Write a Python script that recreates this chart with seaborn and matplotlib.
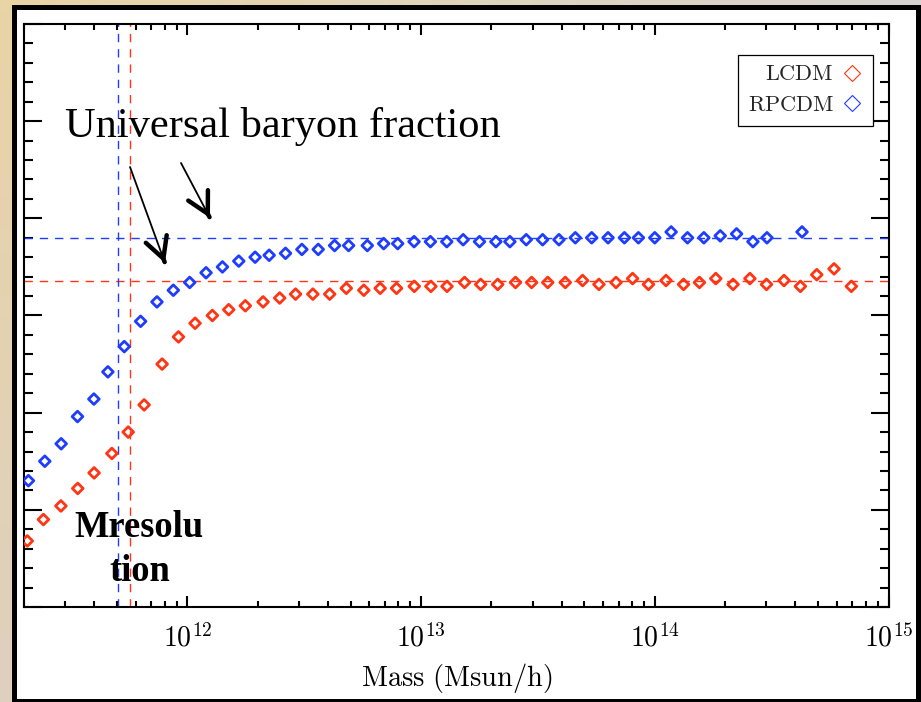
import numpy as np
import pandas as pd
import matplotlib
matplotlib.use("Agg")
import matplotlib.pyplot as plt
import seaborn as sns
from matplotlib.lines import Line2D
from matplotlib.patches import Rectangle
from matplotlib.ticker import (FixedLocator, LogLocator, NullFormatter,
                               FuncFormatter, MultipleLocator)

# Baryon fraction of haloes versus halo mass (log10 M in Msun/h)
lcdm_logm = [11.315, 11.384, 11.459, 11.531, 11.601, 11.677, 11.747, 11.815, 11.892, 11.962,
             12.033, 12.107, 12.177, 12.248, 12.324, 12.395, 12.463, 12.537, 12.609, 12.680,
             12.755, 12.825, 12.895, 12.971, 13.042, 13.111, 13.186, 13.255, 13.328, 13.404,
             13.473, 13.542, 13.617, 13.691, 13.761, 13.834, 13.905, 13.973, 14.048, 14.123,
             14.191, 14.261, 14.335, 14.407, 14.478, 14.553, 14.623, 14.693, 14.767, 14.841]
lcdm_fb = [0.034, 0.045, 0.052, 0.061, 0.069, 0.079, 0.090, 0.104, 0.125, 0.139,
           0.146, 0.150, 0.153, 0.155, 0.157, 0.159, 0.161, 0.161, 0.161, 0.164,
           0.163, 0.164, 0.164, 0.165, 0.165, 0.165, 0.167, 0.166, 0.166, 0.167,
           0.167, 0.167, 0.167, 0.168, 0.166, 0.167, 0.169, 0.166, 0.168, 0.166,
           0.167, 0.169, 0.166, 0.169, 0.166, 0.168, 0.165, 0.171, 0.174, 0.165]

rpcdm_logm = [11.32, 11.39, 11.46, 11.53, 11.60, 11.66, 11.73, 11.80, 11.87, 11.94,
              12.01, 12.08, 12.15, 12.22, 12.29, 12.35, 12.42, 12.49, 12.56, 12.63,
              12.69, 12.77, 12.84, 12.90, 12.97, 13.04, 13.11, 13.18, 13.25, 13.32,
              13.38, 13.45, 13.52, 13.59, 13.66, 13.73, 13.80, 13.87, 13.93, 14.00,
              14.07, 14.14, 14.21, 14.28, 14.35, 14.42, 14.48, 14.63]
rpcdm_fb = [0.065, 0.075, 0.084, 0.098, 0.107, 0.121, 0.134, 0.147, 0.157, 0.163,
            0.167, 0.172, 0.175, 0.178, 0.180, 0.181, 0.182, 0.184, 0.184, 0.186,
            0.186, 0.186, 0.187, 0.187, 0.188, 0.188, 0.188, 0.189, 0.188, 0.188,
            0.188, 0.189, 0.189, 0.189, 0.190, 0.190, 0.190, 0.190, 0.190, 0.190,
            0.193, 0.190, 0.190, 0.191, 0.192, 0.188, 0.190, 0.193]

# Universal baryon fractions and mass resolution limits
fb_universal = {"LCDM": 0.168, "RPCDM": 0.190}
mass_resolution = {"LCDM": 5.7e11, "RPCDM": 5.05e11}

series_names = ["LCDM", "RPCDM"]
x_tick_values = [1e12, 1e13, 1e14, 1e15]

palette = {"LCDM": "#ff3514", "RPCDM": "#1f3dff"}

df = pd.concat([
    pd.DataFrame({"mass": 10 ** np.array(lcdm_logm), "fb": lcdm_fb, "model": "LCDM"}),
    pd.DataFrame({"mass": 10 ** np.array(rpcdm_logm), "fb": rpcdm_fb, "model": "RPCDM"}),
], ignore_index=True)

sns.set_theme(style="ticks")
plt.rcParams["font.family"] = ["Liberation Serif", "DejaVu Serif"]
plt.rcParams["mathtext.fontset"] = "cm"

W, H = 921, 702
fig = plt.figure(figsize=(W / 100, H / 100), dpi=100)

# slide background with a soft gradient and a black-framed white panel
bg = fig.add_axes([0, 0, 1, 1], zorder=-10)
bg.axis("off")
tl = np.array([233, 212, 166]) / 255
tr = np.array([214, 212, 210]) / 255
bl = np.array([222, 208, 190]) / 255
br = np.array([214, 212, 210]) / 255
u = np.linspace(0, 1, 64)[None, :, None]
v = np.linspace(0, 1, 64)[:, None, None]
img = (1 - v) * ((1 - u) * tl + u * tr) + v * ((1 - u) * bl + u * br)
bg.imshow(img, aspect="auto", extent=[0, 1, 0, 1])
bg.set_xlim(0, 1)
bg.set_ylim(0, 1)
bg.add_patch(Rectangle((12 / W, 0), 1, (H - 5) / H, color="black", lw=0))
bg.add_patch(Rectangle((17 / W, (H - 699) / H), (916 - 17) / W, (699 - 10) / H,
                       color="white", lw=0))

ax = fig.add_axes([24 / W, (H - 607) / H, 864.5 / W, 583 / H])
ax.set_facecolor("white")

for name in series_names:
    sub = df[df["model"] == name]
    sns.scatterplot(data=sub, x="mass", y="fb", ax=ax, marker="D", s=30,
                    color=palette[name], facecolor="none", edgecolor=palette[name],
                    linewidth=2.0, legend=False, zorder=3)

dash = (0, (6, 5))
for name in series_names:
    ax.axhline(fb_universal[name], color=palette[name], lw=1.0, ls=dash, zorder=2)
    ax.axvline(mass_resolution[name], color=palette[name], lw=1.0, ls=dash, zorder=2)

ax.set_xscale("log")
ax.set_xlim(2e11, 1e15)
ax.set_ylim(0, 0.3)
ax.yaxis.set_major_locator(MultipleLocator(0.05))
ax.yaxis.set_minor_locator(MultipleLocator(0.01))
ax.xaxis.set_major_locator(FixedLocator(x_tick_values))
ax.xaxis.set_minor_locator(LogLocator(base=10, subs=np.arange(2, 10), numticks=30))
ax.xaxis.set_major_formatter(FuncFormatter(lambda val, _: r"$10^{%d}$" % round(np.log10(val))))
ax.xaxis.set_minor_formatter(NullFormatter())

ax.tick_params(axis="both", which="both", direction="in", top=True, right=True,
               width=1.5, color="black")
ax.tick_params(axis="y", which="major", length=13, labelleft=False)
ax.tick_params(axis="y", which="minor", length=6.5)
ax.tick_params(axis="x", which="major", length=8, labelsize=20, pad=12, labelcolor="black")
ax.tick_params(axis="x", which="minor", length=4)
for sp in ax.spines.values():
    sp.set_linewidth(1.5)
    sp.set_color("black")
    sp.set_visible(True)

ax.set_xlabel(r"$\mathrm{Mass\ (Msun/h)}$", fontsize=20.5, labelpad=6, color="black")
ax.set_ylabel("")

# legend: label then hollow diamond
handles = [Line2D([], [], ls="none", marker="D", ms=8.5, mfc="none",
                  mec=palette[n], mew=0.8) for n in series_names]
leg = ax.legend(handles, [r"$\mathrm{%s}$" % n for n in series_names],
                loc="upper right", bbox_to_anchor=(0.982, 0.947), borderaxespad=0,
                markerfirst=False, frameon=True, fancybox=False, framealpha=1,
                edgecolor="black", fontsize=16, handlelength=1.0, handletextpad=0.3,
                labelspacing=0.45, borderpad=0.45)
leg.get_frame().set_linewidth(0.9)

# annotations
fig.text(65 / W, 1 - 137 / H, "Universal baryon fraction", fontsize=30.5,
         ha="left", va="baseline", color="black")
fig.text(139 / W, 1 - 537 / H, "Mresolu", fontsize=26.3, fontweight="bold",
         ha="center", va="baseline", color="black")
fig.text(140 / W, 1 - 581 / H, "tion", fontsize=26.3, fontweight="bold",
         ha="center", va="baseline", color="black")

def fig_px(x, y):
    return (x / W, 1 - y / H)

for tail, tip in [((130, 167), (165, 263)), ((181, 163), (210, 218))]:
    ax.annotate("", xy=fig_px(*tip), xytext=fig_px(*tail), xycoords="figure fraction",
                textcoords="figure fraction",
                arrowprops=dict(arrowstyle="-", lw=1.3, color="black",
                                shrinkA=0, shrinkB=0))
    d = np.array(tip, float) - np.array(tail, float)
    d /= np.hypot(*d)
    near = np.array(tip) - 1.0 * d
    ax.annotate("", xy=fig_px(*tip), xytext=fig_px(*near), xycoords="figure fraction",
                textcoords="figure fraction",
                arrowprops=dict(arrowstyle="->,head_length=1.5,head_width=0.8",
                                lw=3.2, color="black", shrinkA=0, shrinkB=0,
                                mutation_scale=10))

fig.savefig("out.png", dpi=100)
